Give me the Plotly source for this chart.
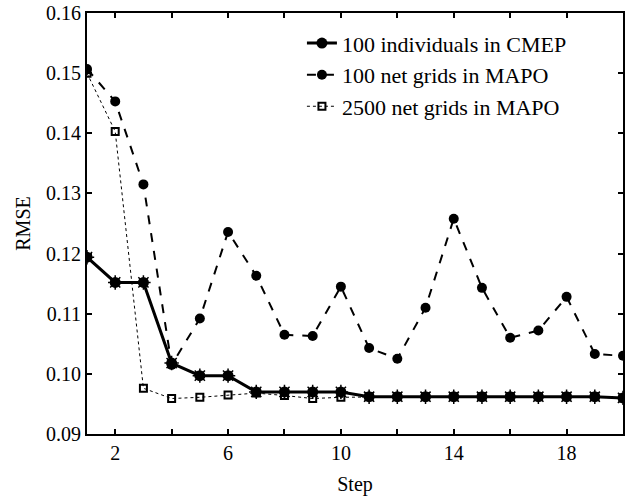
import plotly.graph_objects as go

steps = list(range(1, 21))
cmep_100 = [0.1194, 0.1152, 0.1152, 0.1018, 0.0997, 0.0997, 0.0970, 0.0970, 0.0970, 0.0970,
            0.0962, 0.0962, 0.0962, 0.0962, 0.0962, 0.0962, 0.0962, 0.0962, 0.0962, 0.0960]
mapo_100 = [0.1507, 0.1453, 0.1315, 0.1015, 0.1092, 0.1236, 0.1163, 0.1065, 0.1063, 0.1145,
            0.1043, 0.1025, 0.1110, 0.1258, 0.1143, 0.1060, 0.1072, 0.1128, 0.1033, 0.1030]
mapo_2500 = [0.1500, 0.1403, 0.0976, 0.0959, 0.0961, 0.0965, 0.0968, 0.0964, 0.0959, 0.0961,
             0.0962, 0.0962, 0.0962, 0.0962, 0.0962, 0.0962, 0.0962, 0.0962, 0.0962, 0.0960]
names = ["100 individuals in CMEP", "100 net grids in MAPO", "2500 net grids in MAPO"]
x_tickvals = [2, 6, 10, 14, 18]
x_minor_tickvals = [4, 8, 12, 16]
y_tickvals = [0.09, 0.10, 0.11, 0.12, 0.13, 0.14, 0.15, 0.16]
y_ticktext = ["0.09", "0.10", "0.11", "0.12", "0.13", "0.14", "0.15", "0.16"]

FONT = "Liberation Serif"

fig = go.Figure()
fig.add_trace(go.Scatter(x=steps, y=mapo_2500, mode="lines+markers", name=names[2],
                         line=dict(color="black", width=1, dash="dot"),
                         marker=dict(symbol="square-open", size=7, color="black", line=dict(width=2))))
fig.add_trace(go.Scatter(x=steps, y=mapo_100, mode="lines+markers", name=names[1],
                         line=dict(color="black", width=2, dash="dash"),
                         marker=dict(symbol="circle", size=10, color="black")))
fig.add_trace(go.Scatter(x=steps, y=cmep_100, mode="lines+markers", name=names[0],
                         line=dict(color="black", width=3),
                         marker=dict(symbol="circle", size=11, color="black")))
fig.add_trace(go.Scatter(x=steps, y=cmep_100, mode="markers", showlegend=False, hoverinfo="skip",
                         marker=dict(symbol="asterisk-open", size=12, color="black",
                                     line=dict(width=1.5, color="black"))))

axis_common = dict(showline=True, mirror="ticks", linecolor="black", linewidth=2,
                   ticks="inside", ticklen=5, tickcolor="black", tickwidth=1.5,
                   showgrid=False, zeroline=False, automargin=False,
                   ticklabeloverflow="allow",
                   tickfont=dict(family=FONT, size=20, color="black"))

fig.update_layout(
    width=625, height=498,
    margin=dict(l=87, r=2, t=13, b=64),
    paper_bgcolor="white", plot_bgcolor="white",
    font=dict(family=FONT, size=20, color="black"),
    legend=dict(x=0.401, y=0.978, xanchor="left", yanchor="top",
                traceorder="reversed", bgcolor="rgba(0,0,0,0)",
                font=dict(family=FONT, size=22), itemwidth=30,
                tracegroupgap=0),
    xaxis=dict(range=[1, 20], tickvals=x_tickvals, title=dict(text="Step", standoff=14,
               font=dict(family=FONT, size=20)),
               minor=dict(tickvals=x_minor_tickvals, ticks="inside", ticklen=5,
                          tickcolor="black", tickwidth=1.5),
               **axis_common),
    yaxis=dict(range=[0.09, 0.16], tickvals=y_tickvals, ticktext=y_ticktext,
               title=dict(text="RMSE", standoff=10, font=dict(family=FONT, size=20)),
               **axis_common),
)
fig.write_html("out.html", config={"displayModeBar": False},
               post_script="document.body.style.margin='0';")
